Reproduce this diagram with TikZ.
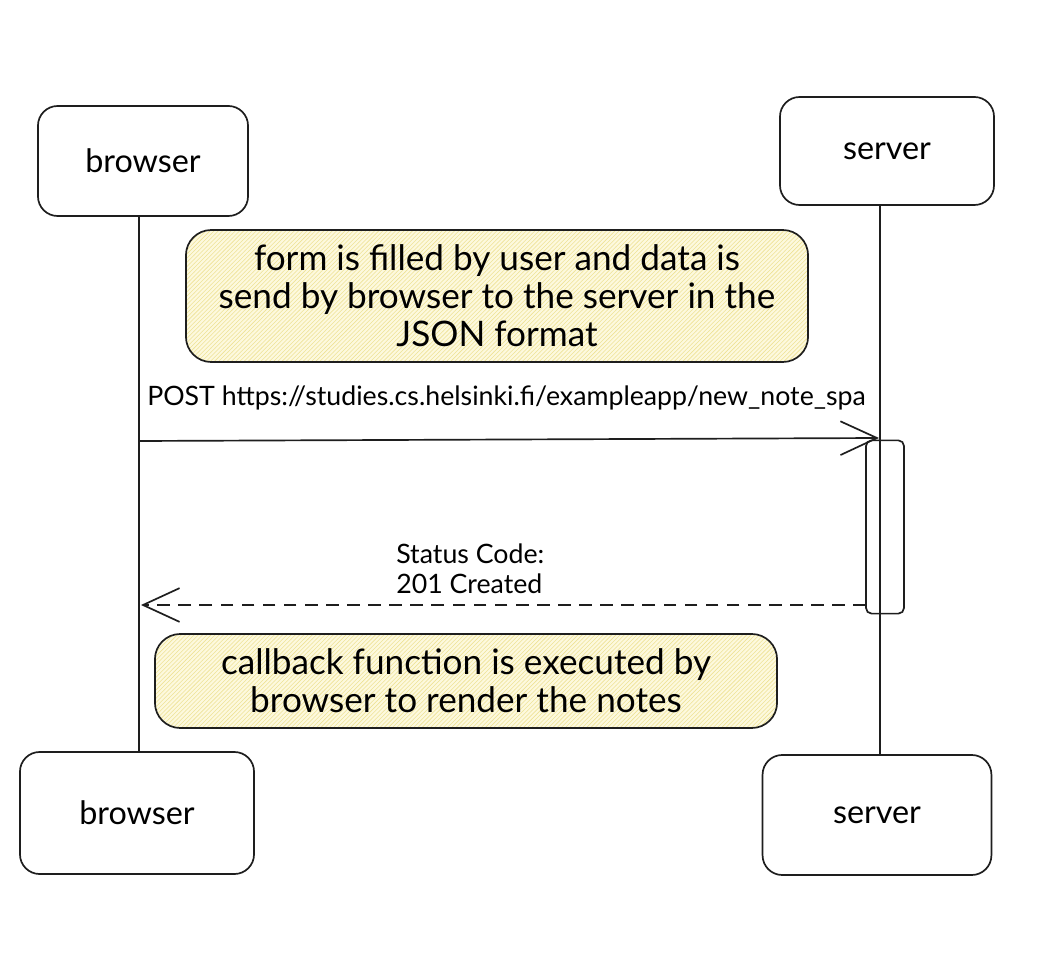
\documentclass[tikz,border=0pt]{standalone}
\usepackage{fontspec}
\setmainfont{Lato}
\usetikzlibrary{arrows.meta, patterns, positioning}
\definecolor{notefill}{RGB}{253, 249, 222}
\definecolor{notehatch}{RGB}{238, 226, 150}
\definecolor{inkblack}{RGB}{30, 30, 30}
\tikzset{
  actorbox/.style={draw=inkblack, line width=1.2pt, rounded corners=14pt, fill=white,
    font=\fontsize{23}{27}\selectfont},
  notebox/.style={draw=inkblack, line width=1.2pt, rounded corners=18pt,
    preaction={fill=notefill}, pattern={north east lines}, pattern color=notehatch,
    align=center, font=\fontsize{25}{27}\selectfont},
  lifeline/.style={draw=inkblack, line width=1.2pt},
  msgarrow/.style={draw=inkblack, line width=1.2pt, -{Straight Barb[length=26pt, width=24pt]}},
  msglabel/.style={font=\fontsize{19}{21}\selectfont, align=left, inner sep=0pt}
}

\begin{document}
\begin{tikzpicture}[x=0.025cm, y=-0.025cm]
  \useasboundingbox[fill=white] (0, 0) rectangle (1040, 964);

  % Actors
  \node[actorbox, minimum width=5.25cm, minimum height=2.75cm] (browsertop) at (143, 161) {browser};
  \node[actorbox, minimum width=5.35cm, minimum height=2.7cm] (servertop) at (887, 151) {server};
  \node[actorbox, minimum width=5.85cm, minimum height=3.05cm] (browserbot) at (137, 813) {browser};
  \node[actorbox, minimum width=5.72cm, minimum height=3cm] (serverbot) at (877, 815) {server};

  % Activation
  \node[draw=inkblack, line width=1.2pt, rounded corners=4pt, fill=white,
    minimum width=0.95cm, minimum height=4.33cm] (act) at (885, 527) {};

  % Lifelines
  \coordinate (browserline) at (139, 0);
  \coordinate (serverline) at (880, 0);
  \draw[lifeline] (browsertop.south -| browserline) -- (browserbot.north -| browserline);
  \draw[lifeline] (servertop.south -| serverline) -- (serverbot.north -| serverline);

  % Notes
  \node[notebox, minimum width=15.55cm, minimum height=3.3cm] (fillnote) at (497, 296)
    {form is filled by user and data is\\send by browser to the server in the\\JSON format};
  \node[notebox, minimum width=15.55cm, minimum height=2.35cm] (callbacknote) at (466, 681)
    {callback function is executed by\\browser to render the notes};

  % Messages
  \coordinate (poststart) at (139, 441);
  \coordinate (postend) at (879, 438);
  \draw[msgarrow] (poststart) -- (postend);
  \node[msglabel, anchor=west] (postlabel) at (147, 398)
    {POST https://studies.cs.helsinki.fi/exampleapp/new\_note\_spa};

  \coordinate (retstart) at (866, 605);
  \coordinate (retend) at (141, 605);
  \draw[msgarrow, dashed, dash pattern=on 9pt off 6pt] (retstart) -- (retend);
  \node[msglabel, anchor=south west] (statuslabel) at (396, 594)
    {Status Code:\\201 Created};
\end{tikzpicture}
\end{document}
